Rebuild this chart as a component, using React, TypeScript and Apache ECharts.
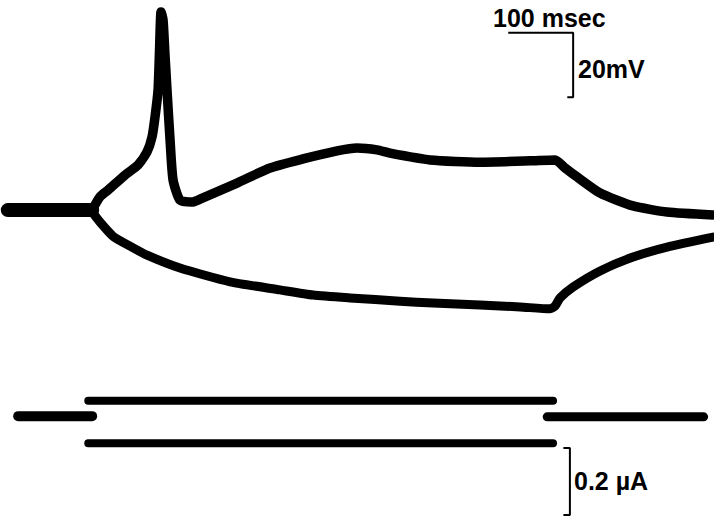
import React, { useEffect, useRef } from "react";
import * as echarts from "echarts";

// time in ms, membrane potential in mV, current in nA
const baseT = [-128, 2];
const baseV = [-59.3, -59.3];

const upperT = [2, 14, 26.4, 52.6, 72.6, 86.5, 94.2, 98.8, 103.5, 105.8, 108.1, 111.2, 114.2, 117.3, 122, 126.6, 137.3, 155.8, 168.2, 225.2, 276, 326.9, 379.3, 410.1, 440.9, 460.9, 522.6, 599.6, 676.6, 715.2, 730.6, 749.1, 784.5, 835.3, 887.7, 958.6];
const upperV = [-59.3, -55.2, -53.1, -48.4, -45.3, -41.2, -36.6, -30.4, -22, -9.5, 2.3, -0.2, -11.1, -22, -37.5, -49.9, -56.2, -56.8, -55.9, -50.9, -46.2, -43.4, -40.9, -40, -40.6, -41.6, -43.7, -44.4, -44, -43.7, -46.2, -49, -54, -58, -59.9, -60.8];

const lowerT = [2, 14, 34.1, 60.3, 86.5, 137.3, 214.4, 291.4, 342.3, 399.3, 476.3, 527.2, 599.6, 661.2, 707.5, 715.2, 722.9, 742.9, 784.5, 835.3, 887.7, 958.6];
const lowerV = [-59.9, -63, -67.4, -70.5, -73.3, -77.3, -81.6, -84.1, -85.7, -86.6, -87.6, -88.2, -88.8, -89.4, -90, -89.1, -86.6, -83.2, -78.2, -73.9, -70.8, -67.7];

const curPreT = [-112, 2];
const curPreI = [0, 0];
const curUpT = [-4, 712];
const curUpI = [46, 46];
const curDownT = [-4, 712];
const curDownI = [-81, -81];
const curPostT = [703, 944];
const curPostI = [-2, -2];

const vBarT = [643, 743, 743, 734];
const vBarV = [-4.2, -4.2, -24.2, -24.2];
const iBarT = [728, 738, 738, 728];
const iBarI = [-95, -95, -295, -295];

const zip = (a: number[], b: number[]) => a.map((v, i) => [v, b[i]]);

export default function App() {
  const ref = useRef<HTMLDivElement>(null);
  useEffect(() => {
    if (!ref.current) return;
    const chart = echarts.init(ref.current, null, { renderer: "svg" });
    const trace = (data: number[][], width: number, yAxisIndex = 0, smooth: number | boolean = 0.15) => ({
      type: "line",
      data,
      yAxisIndex,
      showSymbol: false,
      symbol: "none",
      smooth,
      silent: true,
      lineStyle: { color: "#000", width, cap: "round", join: "round" },
    });
    const font = { fontFamily: "Liberation Sans", fontWeight: "bold", fontSize: 25, fill: "#000" };
    chart.setOption({
      animation: false,
      backgroundColor: "#fff",
      grid: { left: 0, right: 0, top: 0, bottom: 0 },
      xAxis: { type: "value", min: -140, max: 960, show: false },
      yAxis: [
        { type: "value", min: -155, max: 6, show: false },
        { type: "value", min: -304, max: 1242, show: false },
      ],
      series: [
        trace(zip(baseT, baseV), 14, 0, false),
        trace(zip(upperT, upperV), 9.5, 0, 0.2),
        trace(zip(lowerT, lowerV), 9, 0, 0.2),
        trace(zip(curPreT, curPreI), 10, 1, false),
        trace(zip(curUpT, curUpI), 8, 1, false),
        trace(zip(curDownT, curDownI), 8, 1, false),
        trace(zip(curPostT, curPostI), 9, 1, false),
        { ...trace(zip(vBarT, vBarV), 2, 0, false), lineStyle: { color: "#000", width: 2 } },
        { ...trace(zip(iBarT, iBarI), 2, 1, false), lineStyle: { color: "#000", width: 2 } },
      ],
      graphic: [
        { type: "text", left: 493, top: 5, style: { ...font, text: "100 msec" } },
        { type: "text", left: 578, top: 56, style: { ...font, text: "20mV" } },
        { type: "text", left: 574, top: 468, style: { ...font, text: "0.2 µA" } },
      ],
    });
    return () => chart.dispose();
  }, []);
  return (
    <div
      ref={ref}
      style={{ position: "fixed", left: 0, top: 0, width: 714, height: 518, background: "#fff" }}
    />
  );
}
